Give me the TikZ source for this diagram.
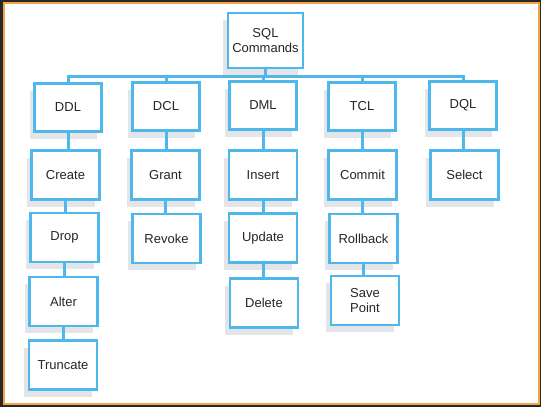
\documentclass[tikz,border=0pt]{standalone}
\usepackage{fontspec}
\setmainfont{Liberation Sans}
\usetikzlibrary{shadows}
\definecolor{boxblue}{RGB}{78,183,236}
\definecolor{shade}{RGB}{227,229,232}
\definecolor{frameorange}{RGB}{245,166,66}
\definecolor{framedark}{RGB}{40,40,42}

\begin{document}
\begin{tikzpicture}[x=1pt, y=-1pt,
  cmd/.style={draw=boxblue, line width=2.6pt, fill=white, inner sep=2pt,
    minimum width=68pt, minimum height=49pt, align=center,
    font=\fontsize{13}{15.5}\selectfont, text=black!85,
    drop shadow={shadow xshift=-5pt, shadow yshift=-7pt, fill=shade, opacity=1}},
  top/.style={minimum width=67pt, minimum height=48pt},
  wire/.style={draw=boxblue, line width=3pt}]
\useasboundingbox (0,0) rectangle (541,407);
% frame
\fill[framedark] (0,0) rectangle (541,407);
\fill[frameorange] (3,1.5) rectangle (539.5,405);
\fill[white] (5,3.5) rectangle (537.5,403);

\node[cmd, minimum width=75pt, minimum height=55pt] (sql) at (265.5,40.5) {SQL\\Commands};
\foreach \n/\t/\x/\y in {ddl/DDL/68/107.5, dcl/DCL/166/106.5, dml/DML/263/105.5,
    tcl/TCL/362/106.5, dql/DQL/463/105.5}
  \node[cmd, top] (\n) at (\x,\y) {\t};
\foreach \n/\t/\x/\y in {create/Create/65.5/175, drop/Drop/64.5/237.5, alter/Alter/63.5/301.5,
    truncate/Truncate/63/365, grant/Grant/165.5/175, revoke/Revoke/166.5/238.5,
    insert/Insert/263/175, update/Update/263/238, delete/Delete/264/303,
    commit/Commit/362.5/175, rollback/Rollback/363.5/238.5,
    savepoint/{Save\\Point}/365/300.5, select/Select/464.5/175}
  \node[cmd] (\n) at (\x,\y) {\t};

% connectors
\coordinate (bus) at (0,76);
\draw[wire] (sql.south) -- (sql.south |- bus);
\draw[wire] (ddl.north) |- (bus -| dql.north) -- (dql.north);
\foreach \n in {dcl,dml,tcl}
  \draw[wire] (\n.north) -- (\n.north |- bus);
\foreach \a/\b in {ddl/create, create/drop, drop/alter, alter/truncate, dcl/grant,
    grant/revoke, dml/insert, insert/update, update/delete, tcl/commit,
    commit/rollback, rollback/savepoint, dql/select}
  \draw[wire] (\a.south) -- (\a.south |- \b.north);
\end{tikzpicture}
\end{document}
